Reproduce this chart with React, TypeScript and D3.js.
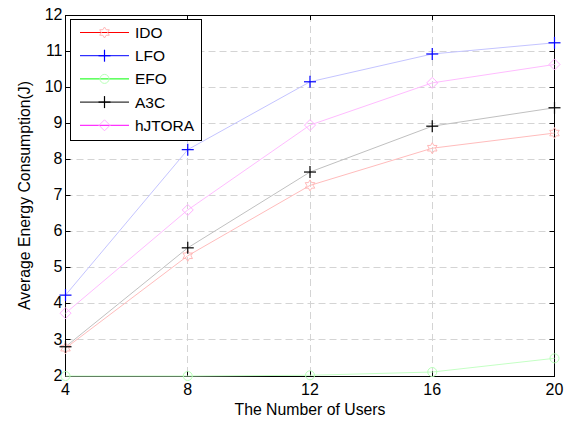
import React from "react";
import * as d3 from "d3";

const users = [4, 8, 12, 16, 20];
const ido = [2.77, 5.33, 7.28, 8.31, 8.73];
const lfo = [4.24, 8.27, 10.15, 10.92, 11.23];
const efo = [2.0, 2.0, 2.02, 2.11, 2.49];
const a3c = [2.81, 5.55, 7.65, 8.92, 9.43];
const hjtora = [3.74, 6.6, 8.95, 10.12, 10.63];
const yTicks = [2, 3, 4, 5, 6, 7, 8, 9, 10, 11, 12];
const xTicks = [4, 8, 12, 16, 20];

const seriesNames = ["IDO", "LFO", "EFO", "A3C", "hJTORA"];
const seriesData = [ido, lfo, efo, a3c, hjtora];
const legendColors = ["#ff0000", "#0000ff", "#00ff00", "#000000", "#ff00ff"];
const lineColors = ["#ffbcbc", "#c4c4ff", "#c4ffc4", "#c0c0c0", "#ffbcff"];
const markerColors = ["#ffb8b8", "#0000ff", "#b8ffb8", "#000000", "#ffb0ff"];
const markerTypes = ["hexagram", "plus", "circle", "plus", "diamond"];

const W = 575, H = 422;
const L = 65.5, R = 554.5, T = 15, B = 376;
const FONT = "'Liberation Sans', Arial, sans-serif";

function Marker({ type, x, y, color }: { type: string; x: number; y: number; color: string }) {
  if (type === "plus") {
    return (
      <g stroke={color} strokeWidth={1.2}>
        <line x1={x - 6} x2={x + 6} y1={y} y2={y} />
        <line x1={x} x2={x} y1={y - 6} y2={y + 6} />
      </g>
    );
  }
  if (type === "circle") {
    return <circle cx={x} cy={y} r={4.5} fill="none" stroke={color} strokeWidth={1} />;
  }
  if (type === "diamond") {
    const s = 5.5;
    return <path d={`M${x},${y - s}L${x + s},${y}L${x},${y + s}L${x - s},${y}Z`} fill="none" stroke={color} strokeWidth={1} />;
  }
  const pts: string[] = [];
  for (let i = 0; i < 12; i++) {
    const a = (Math.PI / 6) * i - Math.PI / 2;
    const r = i % 2 === 0 ? 5.5 : 3.2;
    pts.push(`${x + r * Math.cos(a)},${y + r * Math.sin(a)}`);
  }
  return <polygon points={pts.join(" ")} fill="none" stroke={color} strokeWidth={1} />;
}

export default function App() {
  const x = d3.scaleLinear().domain([4, 20]).range([L, R]);
  const y = d3.scaleLinear().domain([2, 12]).range([B, T]);
  const line = d3.line<number>().x((_, i) => x(users[i])).y((d) => y(d));
  const px = (v: number) => Math.floor(v) + 0.5;

  return (
    <svg width={W} height={H} style={{ position: "absolute", left: 0, top: 0, background: "#fff" }} fontFamily={FONT}>
      <rect x={0} y={0} width={W} height={H} fill="#fff" />
      <g stroke="#d4d4d4" strokeWidth={1} strokeDasharray="7,4">
        {yTicks.slice(1, -1).map((t) => (
          <line key={"gy" + t} x1={L} x2={R} y1={px(y(t))} y2={px(y(t))} />
        ))}
        {xTicks.slice(1, -1).map((t) => (
          <line key={"gx" + t} x1={px(x(t))} x2={px(x(t))} y1={T} y2={B} />
        ))}
      </g>
      <rect x={px(L)} y={px(T)} width={px(R) - px(L)} height={px(B) - px(T)} fill="none" stroke="#000" strokeWidth={1} />
      <g stroke="#000" strokeWidth={1}>
        {yTicks.map((t) => (
          <g key={"ty" + t}>
            <line x1={L} x2={L + 5} y1={px(y(t))} y2={px(y(t))} />
            <line x1={R - 5} x2={R} y1={px(y(t))} y2={px(y(t))} />
          </g>
        ))}
        {xTicks.map((t) => (
          <g key={"tx" + t}>
            <line x1={px(x(t))} x2={px(x(t))} y1={B} y2={B - 5} />
            <line x1={px(x(t))} x2={px(x(t))} y1={T} y2={T + 5} />
          </g>
        ))}
      </g>
      {seriesData.map((d, i) => (
        <path key={"l" + i} d={line(d) || ""} fill="none" stroke={lineColors[i]} strokeWidth={1} />
      ))}
      {seriesData.map((d, i) => (
        <g key={"m" + i}>
          {d.map((v, j) => (
            <Marker key={j} type={markerTypes[i]} x={x(users[j])} y={y(v)} color={markerColors[i]} />
          ))}
        </g>
      ))}
      <g fontSize={16} fill="#000">
        {yTicks.map((t) => (
          <text key={"yl" + t} x={L - 3} y={y(t) - 1} dy="0.35em" textAnchor="end">{t}</text>
        ))}
        {xTicks.map((t) => (
          <text key={"xl" + t} x={x(t)} y={395} textAnchor="middle">{t}</text>
        ))}
      </g>
      <text x={(L + R) / 2} y={415} textAnchor="middle" fontSize={15.8}>The Number of Users</text>
      <text transform={`translate(30,${(T + B) / 2}) rotate(-90)`} textAnchor="middle" fontSize={15.8}>Average Energy Consumption(J)</text>
      <g>
        <rect x={70.5} y={19.5} width={131} height={121} fill="#fff" stroke="#000" strokeWidth={1} />
        {seriesNames.map((n, i) => {
          const ly = 32.5 + i * 23.2;
          return (
            <g key={"lg" + i}>
              <line x1={80} x2={129} y1={ly} y2={ly} stroke={legendColors[i]} strokeWidth={1} />
              <Marker type={markerTypes[i]} x={104.5} y={ly} color={markerColors[i]} />
              <text x={135} y={ly} dy="0.36em" fontSize={15.5}>{n}</text>
            </g>
          );
        })}
      </g>
    </svg>
  );
}
